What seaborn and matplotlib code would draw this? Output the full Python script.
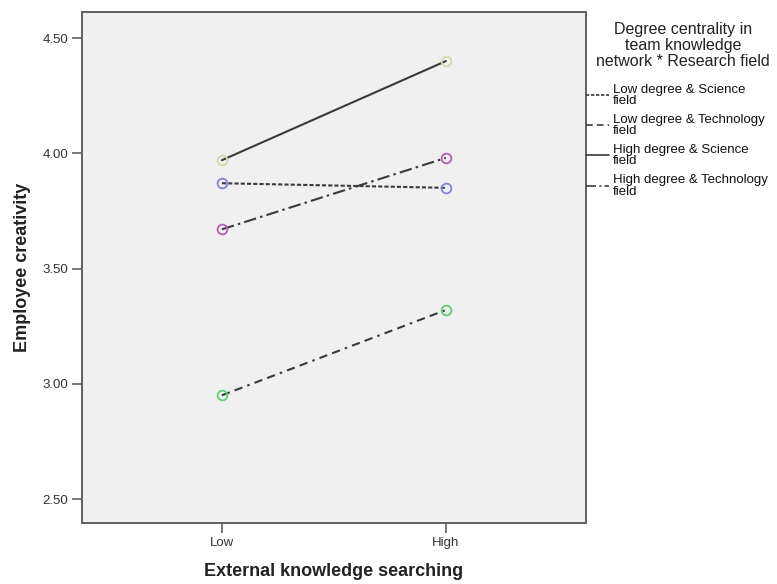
import matplotlib
matplotlib.use("Agg")
import matplotlib.pyplot as plt
import seaborn as sns
import pandas as pd

# ---- data ----
categories = ["Low", "High"]
series_names = [
    "Low degree & Science\nfield",
    "Low degree & Technology\nfield",
    "High degree & Science\nfield",
    "High degree & Technology\nfield",
]
low_sci = [3.87, 3.85]
low_tech = [2.95, 3.32]
high_sci = [3.97, 4.40]
high_tech = [3.67, 3.98]
y_ticks = [2.50, 3.00, 3.50, 4.00, 4.50]
y_tick_labels = ["2.50", "3.00", "3.50", "4.00", "4.50"]

values = [low_sci, low_tech, high_sci, high_tech]
marker_colors = ["#7f86d8", "#5fcf6f", "#d8d8a8", "#b65cb6"]
line_styles = [(0, (2, 1)), (0, (4, 2.5, 4, 2.5, 1.2, 2.5)), "-", (0, (6, 2, 1.2, 2))]

sns.set_theme(style="white")
plt.rcParams["font.family"] = ["Liberation Sans", "DejaVu Sans"]

fig = plt.figure(figsize=(7.77, 5.84), dpi=100)
ax = fig.add_axes([0.1055, 0.1045, 0.6485, 0.875])
ax.set_facecolor("#f0f0f0")

handles = []
for name, vals, mc, ls in zip(series_names, values, marker_colors, line_styles):
    df = pd.DataFrame({"x": categories, "y": vals})
    sns.lineplot(data=df, x="x", y="y", ax=ax, color="#3a3a3a", linewidth=1.5,
                 linestyle=ls, marker="o", markersize=7, markerfacecolor="none",
                 markeredgecolor=mc, markeredgewidth=1.3, sort=False)
    h, = ax.plot([], [], color="#3a3a3a", linewidth=1.2, linestyle=ls)
    handles.append(h)

ax.set_xlim(-0.625, 1.625)
ax.set_ylim(2.396, 4.613)
ax.set_yticks(y_ticks)
ax.set_yticklabels(y_tick_labels)

for s in ax.spines.values():
    s.set_color("#606060")
    s.set_linewidth(1.4)

ax.tick_params(axis="both", which="both", direction="out", length=7, width=1.2,
               color="#606060", labelsize=9.5, labelcolor="#333333", pad=3,
               bottom=True, left=True)

ax.set_xlabel("External knowledge searching", fontsize=13, fontweight="bold",
              color="#222222", labelpad=10)
ax.set_ylabel("Employee creativity", fontsize=13, fontweight="bold",
              color="#222222", labelpad=8)

fig.text(0.879, 0.922, "Degree centrality in\nteam knowledge\nnetwork * Research field",
         ha="center", va="center", fontsize=11.5, color="#222222", linespacing=1.08)

leg = ax.legend(handles, series_names, loc="upper left", bbox_to_anchor=(1.0, 0.86),
                frameon=False, fontsize=9.5, handlelength=1.75, handletextpad=0.3,
                borderpad=0, borderaxespad=0, labelspacing=0.5)
for t in leg.get_texts():
    t.set_linespacing(0.95)
    t.set_color("#111111")

fig.savefig("out.png", dpi=100, facecolor="white")
